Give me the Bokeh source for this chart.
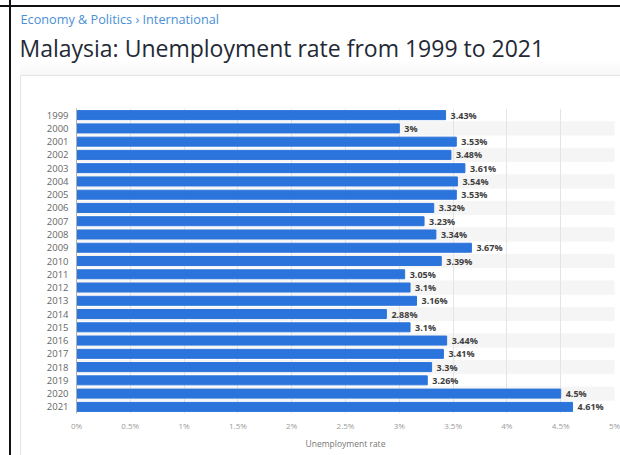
from bokeh.plotting import figure
from bokeh.layouts import column
from bokeh.models import FactorRange, Range1d, FixedTicker, CustomJSTickFormatter
from bokeh.core.properties import value
from bokeh.embed import file_html
from bokeh.resources import INLINE

# ---- data ----
years = ["1999", "2000", "2001", "2002", "2003", "2004", "2005", "2006", "2007",
         "2008", "2009", "2010", "2011", "2012", "2013", "2014", "2015", "2016",
         "2017", "2018", "2019", "2020", "2021"]
rates = [3.43, 3.0, 3.53, 3.48, 3.61, 3.54, 3.53, 3.32, 3.23, 3.34, 3.67, 3.39,
         3.05, 3.1, 3.16, 2.88, 3.1, 3.44, 3.41, 3.3, 3.26, 4.5, 4.61]
rate_labels = ["%g%%" % v for v in rates]
x_ticks = [0, 0.5, 1, 1.5, 2, 2.5, 3, 3.5, 4, 4.5, 5]
x_max = 5
stripe_years = years[1::2]

breadcrumb = "Economy & Politics \u203a International"
title = "Malaysia: Unemployment rate from 1999 to 2021"
x_title = "Unemployment rate"

FONT = "Open Sans"
W, H_HEAD, H_CHART = 620, 100, 355

# ---- header (pixel coordinate canvas) ----
head = figure(width=W, height=H_HEAD, x_range=Range1d(0, W), y_range=Range1d(H_HEAD, 0),
              output_backend="svg", toolbar_location=None,
              x_axis_type=None, y_axis_type=None, min_border=0)
head.frame_align = False
head.grid.visible = False
head.outline_line_color = None
head.background_fill_color = None
head.border_fill_color = None
head.text(x=[20], y=[18], text=[breadcrumb], text_font=value(FONT),
          text_font_size="12.7px", text_color="#4a8fd6", text_baseline="middle")
head.text(x=[19], y=[47], text=[title], text_font=value(FONT),
          text_font_size="23px", text_color="#1f2a36", text_baseline="middle")

# ---- chart ----
p = figure(width=W, height=H_CHART,
           y_range=FactorRange(factors=list(reversed(years))),
           x_range=Range1d(0, x_max),
           output_backend="svg", toolbar_location=None,
           min_border_left=76, min_border_right=6,
           min_border_top=8, min_border_bottom=42)
p.frame_align = False
p.outline_line_color = None
p.background_fill_color = None
p.border_fill_color = None

p.hbar(y=stripe_years, left=0, right=x_max, height=1.0,
       color="#f5f5f5", level="underlay")
p.hbar(y=years, left=0, right=rates, height=0.68, color="#2b74db")
p.text(x=rates, y=years, text=rate_labels, x_offset=5,
       text_baseline="middle", text_align="left",
       text_font=value(FONT), text_font_size="9px", text_font_style="bold",
       text_color="#404040")

xa = p.xaxis[0]
xa.ticker = FixedTicker(ticks=x_ticks)
xa.formatter = CustomJSTickFormatter(code="return tick + '%'")
xa.axis_line_color = None
xa.major_tick_line_color = None
xa.minor_tick_line_color = None
xa.major_tick_out = 0
xa.major_tick_in = 0
xa.major_label_standoff = 6
xa.major_label_text_font = FONT
xa.major_label_text_font_size = "8px"
xa.major_label_text_color = "#9a9a9a"
xa.axis_label = x_title
xa.axis_label_text_font = FONT
xa.axis_label_text_font_size = "8.5px"
xa.axis_label_text_font_style = "normal"
xa.axis_label_text_color = "#777777"
xa.axis_label_standoff = 4

ya = p.yaxis[0]
ya.axis_line_color = "#b0b0b0"
ya.major_tick_line_color = None
ya.major_tick_out = 0
ya.major_tick_in = 0
ya.major_label_standoff = 8
ya.major_label_text_font = FONT
ya.major_label_text_font_size = "9.5px"
ya.major_label_text_color = "#666666"

p.xgrid.grid_line_color = "#e4e4e4"
p.ygrid.grid_line_color = None

layout = column(head, p, spacing=0)
layout.styles = {
    "background": (
        "linear-gradient(#111,#111) 9px 0px / 2px 100% no-repeat, "
        "linear-gradient(#111,#111) 0px 5px / 100% 2px no-repeat, "
        "linear-gradient(#e2e4e8,#e2e4e8) 20px 75px / 1px 100% no-repeat, "
        "linear-gradient(#e2e4e8,#e2e4e8) 20px 75px / 100% 1px no-repeat, "
        "linear-gradient(rgba(0,0,0,0), rgba(0,0,0,0.03)) 20px 60px / 100% 15px no-repeat, "
        "white"
    )
}

open("out.html", "w").write(file_html(layout, INLINE))
